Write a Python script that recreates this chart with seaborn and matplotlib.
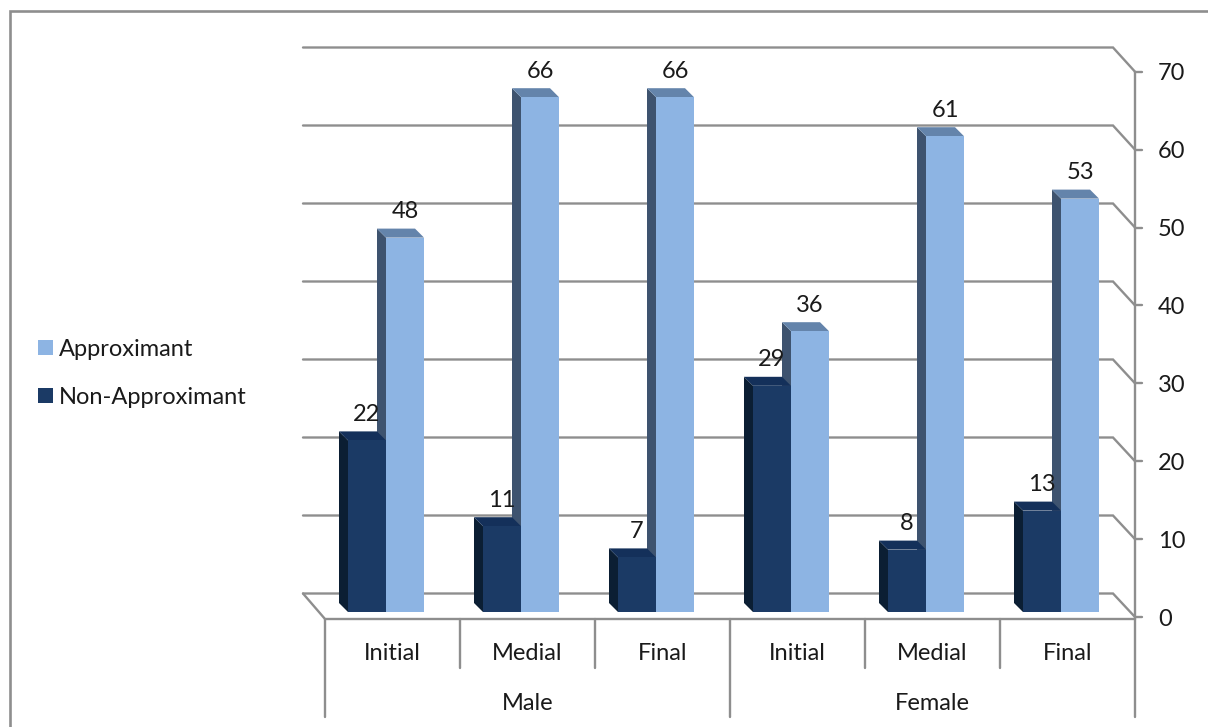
import matplotlib
matplotlib.use("Agg")
import matplotlib.pyplot as plt
import pandas as pd
import seaborn as sns
from matplotlib.patches import Polygon

positions = ["Initial", "Medial", "Final", "Initial", "Medial", "Final"]
genders = ["Male", "Female"]
approximant = [48, 66, 66, 36, 61, 53]
non_approximant = [22, 11, 7, 29, 8, 13]
value_ticks = [0, 10, 20, 30, 40, 50, 60, 70]

DARK = {"front": "#1b3a65", "side": "#0b1e33", "top": "#14305a"}
LIGHT = {"front": "#8db4e3", "side": "#3e536f", "top": "#6484ab"}
GREY = "#8e8e8e"
TEXT = "#1a1a1a"
FONT_SIZE = 17

W, H = 1208, 727
sns.set_style("white")
plt.rcParams["font.family"] = ["Lato", "DejaVu Sans"]
fig = plt.figure(figsize=(W / 100, H / 100), dpi=100, facecolor="white")

# Pixel-space layer for the chart furniture
chrome = fig.add_axes([0, 0, 1, 1], zorder=0)
chrome.set_xlim(0, W)
chrome.set_ylim(H, 0)
chrome.axis("off")

# Plot layer: front plane of the columns
PX_PER_UNIT = 7.8
BASE_Y = 612
ax_left, ax_right = 318.5, 1128.5
ax_top = BASE_Y - 70 * PX_PER_UNIT
ax = fig.add_axes(
    [ax_left / W, 1 - BASE_Y / H, (ax_right - ax_left) / W, (BASE_Y - ax_top) / H],
    zorder=1,
)

slots = list(range(len(positions)))
table = pd.DataFrame(
    {
        "slot": slots * 2,
        "value": non_approximant + approximant,
        "series": ["Non-Approximant"] * 6 + ["Approximant"] * 6,
    }
)
sns.barplot(
    data=table, x="slot", y="value", hue="series",
    hue_order=["Non-Approximant", "Approximant"],
    palette={"Non-Approximant": DARK["front"], "Approximant": LIGHT["front"]},
    order=slots, width=0.563, gap=0, saturation=1, errorbar=None, ax=ax,
    linewidth=0,
)
ax.set_xlim(-0.5, 5.5)
ax.set_ylim(0, 70)
ax.patch.set_alpha(0)
ax.set_xlabel("")
ax.set_ylabel("")
ax.set_xticks([])
ax.set_yticks([])
sns.despine(ax=ax, left=True, bottom=True)
handles, labels = ax.get_legend_handles_labels()
ax.get_legend().remove()


def front_y(v):
    return 617 - 7.79 * v


def back_y(v):
    return 593.5 - 7.8 * v


# Back wall gridlines folding round to the value axis
for v in value_ticks:
    chrome.plot([303, 1113, 1135], [back_y(v), back_y(v), front_y(v)],
                color=GREY, lw=1.7, solid_joinstyle="miter")
    chrome.plot([1135, 1142], [front_y(v)] * 2, color=GREY, lw=1.7)
    chrome.text(1158, front_y(v) + 2, str(v), ha="left", va="center",
                fontsize=FONT_SIZE, color=TEXT)

# Floor edge, value axis and category dividers
chrome.plot([303, 325, 1135], [back_y(0), 619, 619], color=GREY, lw=1.7)
chrome.plot([1135, 1135], [front_y(70), 619], color=GREY, lw=1.7)
for x in (460, 595, 865, 1000):
    chrome.plot([x, x], [619, 668], color=GREY, lw=1.7)
for x in (325, 730, 1135):
    chrome.plot([x, x], [619, 717], color=GREY, lw=1.7)

for i, name in enumerate(positions):
    chrome.text(392.5 + 135 * i, 653, name, ha="center", va="center",
                fontsize=FONT_SIZE, color=TEXT)
for i, name in enumerate(genders):
    chrome.text(527.5 + 405 * i, 703, name, ha="center", va="center",
                fontsize=FONT_SIZE, color=TEXT)

# Outer chart border
chrome.plot([10, 10, W], [H, 11, 11], color=GREY, lw=1.9, solid_joinstyle="miter")

# Extrude each column with side and top faces
DEPTH = 9


def to_chrome(x, y):
    return chrome.transData.inverted().transform(ax.transData.transform((x, y)))


for container, colours, z in ((ax.containers[1], LIGHT, 2), (ax.containers[0], DARK, 4)):
    for bar in container:
        x0, x1 = bar.get_x(), bar.get_x() + bar.get_width()
        v = int(bar.get_height())
        left_top = to_chrome(x0, v)
        right_top = to_chrome(x1, v)
        left_base = to_chrome(x0, 0)
        side = [left_top, left_top - DEPTH, left_base - DEPTH, left_base]
        top = [left_top, left_top - DEPTH, right_top - DEPTH, right_top]
        for pts, key in ((side, "side"), (top, "top")):
            ax.add_patch(Polygon(pts, closed=True, facecolor=colours[key],
                                 edgecolor="none", transform=chrome.transData,
                                 clip_on=False, zorder=z))
        bar.set_zorder(z + 1)
        label_x, label_y = (left_top + right_top) / 2
        ax.text(label_x, label_y - 26, str(v), ha="center", va="center",
                fontsize=FONT_SIZE, color=TEXT, transform=chrome.transData,
                zorder=8, clip_on=False)

# Legend with the lighter series listed first
order = [labels.index("Approximant"), labels.index("Non-Approximant")]
chrome.legend(
    [handles[i] for i in order], [labels[i] for i in order],
    loc="center left", bbox_to_anchor=(38 / W, 1 - 373.5 / H),
    bbox_transform=fig.transFigure, frameon=False, fontsize=FONT_SIZE,
    handlelength=0.63, handleheight=0.63, handletextpad=0.27,
    labelspacing=1.14, labelcolor=TEXT, borderpad=0, borderaxespad=0,
)

fig.savefig("out.png", dpi=100, facecolor="white")
